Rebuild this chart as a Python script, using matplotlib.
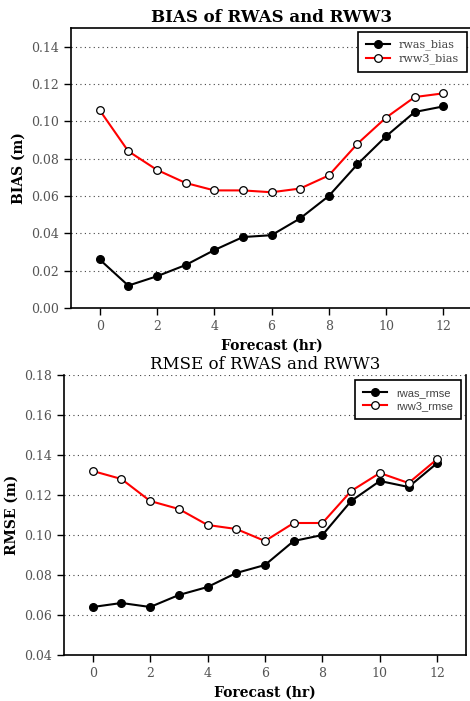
import numpy as np
import matplotlib
matplotlib.use("Agg")
import matplotlib.pyplot as plt

# forecast hours
hours = list(range(13))

# BIAS (m)
rwas_bias = [0.026, 0.012, 0.017, 0.023, 0.031, 0.038, 0.039, 0.048, 0.060, 0.077, 0.092, 0.105, 0.108]
rww3_bias = [0.106, 0.084, 0.074, 0.067, 0.063, 0.063, 0.062, 0.064, 0.071, 0.088, 0.102, 0.113, 0.115]

# RMSE (m)
rwas_rmse = [0.064, 0.066, 0.064, 0.070, 0.074, 0.081, 0.085, 0.097, 0.100, 0.117, 0.127, 0.124, 0.136]
rww3_rmse = [0.132, 0.128, 0.117, 0.113, 0.105, 0.103, 0.097, 0.106, 0.106, 0.122, 0.131, 0.126, 0.138]

bias_ticks = [0.00, 0.02, 0.04, 0.06, 0.08, 0.10, 0.12, 0.14]
rmse_ticks = [0.04, 0.06, 0.08, 0.10, 0.12, 0.14, 0.16, 0.18]
x_ticks = [0, 2, 4, 6, 8, 10, 12]

serif = "DejaVu Serif"
tick_col = "#555555"

fig = plt.figure(figsize=(4.70, 7.01), dpi=100)
ax1 = fig.add_axes([71/470, 1 - 308/701, 401/470, 280/701])
ax2 = fig.add_axes([64/470, 1 - 655/701, 402/470, 280/701])


def draw(ax, rwas, rww3, ticks, names, ylabel, title, title_weight, legend_font, anchor):
    ax.plot(hours, rwas, color="black", lw=1.5, marker="o", ms=5.5,
            mfc="black", mec="black", label=names[0], zorder=3)
    ax.plot(hours, rww3, color="red", lw=1.5, marker="o", ms=5.5,
            mfc="white", mec="black", mew=0.9, label=names[1], zorder=3)
    ax.set_xlim(-1, 13)
    ax.set_ylim(ticks[0], ticks[-1] + (0.01 if ticks[-1] < 0.15 else 0))
    ax.set_xticks(x_ticks)
    ax.set_yticks(ticks)
    ax.set_yticklabels(["%.2f" % t for t in ticks])
    for g in ticks[1:]:
        ax.axhline(g, color="#444444", lw=0.8, ls=(0, (1, 3)), zorder=1)
    ax.tick_params(direction="out", length=5, width=1, colors="black",
                   labelcolor=tick_col, labelsize=9)
    for lab in ax.get_xticklabels() + ax.get_yticklabels():
        lab.set_fontfamily(serif)
    for s in ax.spines.values():
        s.set_linewidth(1.2)
    ax.set_ylabel(ylabel, fontfamily=serif, fontweight="bold", fontsize=10)
    ax.set_xlabel("Forecast (hr)", fontfamily=serif, fontweight="bold", fontsize=10)
    ax.set_title(title, fontfamily=serif, fontweight=title_weight, fontsize=12, pad=4)
    leg = ax.legend(loc="upper right", fancybox=False, framealpha=1,
                    edgecolor="black", prop={"family": legend_font, "size": 8},
                    handlelength=2.2, borderpad=0.7, labelspacing=0.3,
                    borderaxespad=0, bbox_to_anchor=anchor)
    leg.get_frame().set_linewidth(1.2)
    for t in leg.get_texts():
        t.set_color("#444444")


draw(ax1, rwas_bias, rww3_bias, bias_ticks, ["rwas_bias", "rww3_bias"],
     "BIAS (m)", "BIAS of RWAS and RWW3", "bold", serif, (0.9875, 0.986))
draw(ax2, rwas_rmse, rww3_rmse, rmse_ticks, ["rwas_rmse", "rww3_rmse"],
     "RMSE (m)", "RMSE of RWAS and RWW3", "normal", "Liberation Sans", (0.9876, 0.982))
ax2.spines["top"].set_visible(False)
ax1.spines["right"].set_visible(False)

fig.savefig("out.png", dpi=100)
